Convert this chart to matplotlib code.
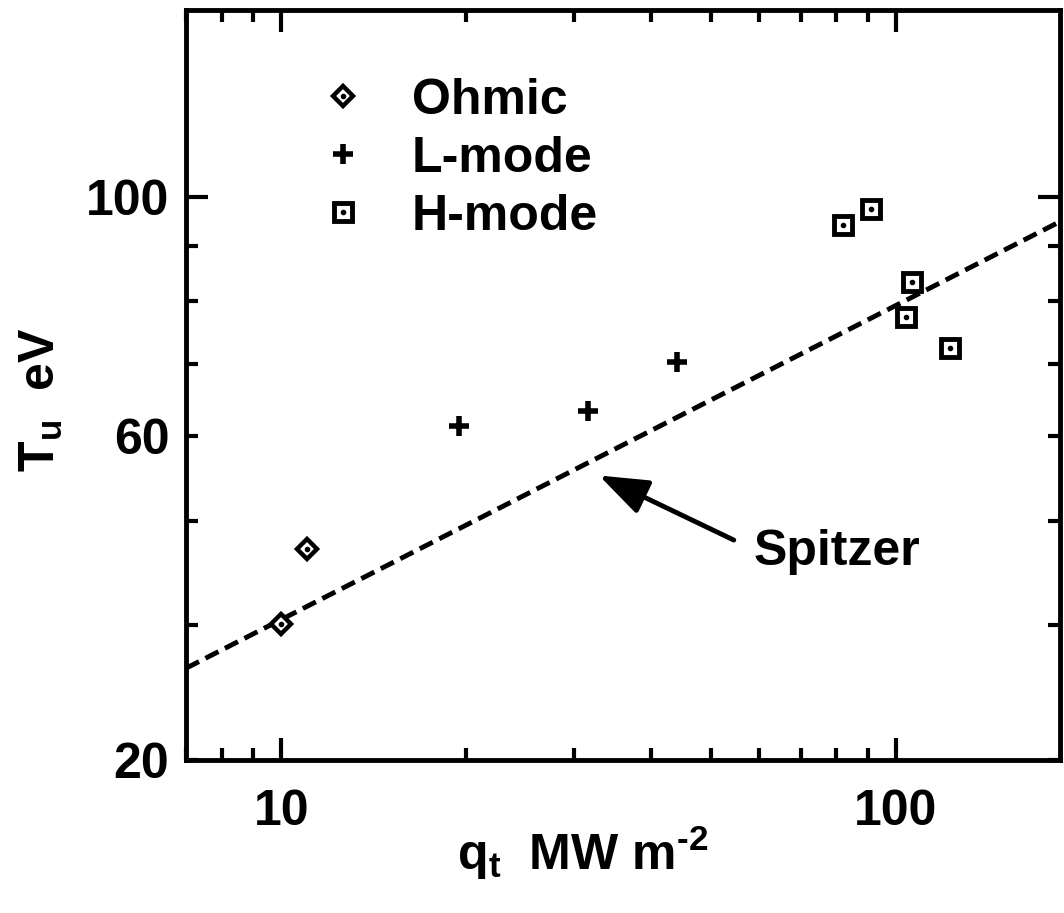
import matplotlib
matplotlib.use("Agg")
import matplotlib.pyplot as plt
from matplotlib.legend_handler import HandlerTuple
from matplotlib.ticker import NullFormatter, FixedLocator

plt.rcParams['font.family'] = ['Liberation Sans', 'DejaVu Sans']
plt.rcParams['font.weight'] = 'bold'
plt.rcParams['mathtext.fontset'] = 'custom'
plt.rcParams['mathtext.rm'] = 'Liberation Sans:bold'
plt.rcParams['mathtext.it'] = 'Liberation Sans:bold'
plt.rcParams['mathtext.bf'] = 'Liberation Sans:bold'
plt.rcParams['mathtext.default'] = 'rm'

# ---- data ----
ohmic_q = [10.0, 11.0]
ohmic_T = [40.1, 47.1]

lmode_q = [19.5, 31.6, 44.0]
lmode_T = [61.2, 63.2, 70.2]

hmode_q = [82.1, 91.2, 106.3, 103.9, 122.4]
hmode_T = [94.2, 97.3, 83.3, 77.3, 72.3]

spitzer_q = [7.0, 185.0]
spitzer_T = [36.5, 94.8]

# annotation: arrow tip, arrow tail, text anchor (data coords)
arrow_tip = (32.9, 55.1)
arrow_tail = (54.5, 48.0)
spitzer_text_pos = (58.8, 46.8)

x_major_ticks = [10, 100]
x_major_labels = ["10", "100"]
x_minor_ticks = [7, 8, 9, 20, 30, 40, 50, 60, 70, 80, 90]
y_major_ticks = [100]
y_major_labels = ["100"]
y_minor_ticks = [30, 40, 50, 60, 70, 80, 90]
y_minor_labels = ["20", "", "", "60", "", "", ""]

legend_labels = ["Ohmic", "L-mode", "H-mode"]

FS = 36

fig = plt.figure(figsize=(10.64, 9.13), dpi=100)
ax = fig.add_axes([186 / 1064, 1 - 760 / 913, 874 / 1064, 750 / 913])
ax.set_xscale('log')
ax.set_yscale('log')
ax.set_xlim(7, 185)
ax.set_ylim(30, 149)

# Spitzer line
ax.plot(spitzer_q, spitzer_T, color='black', lw=3.5, linestyle=(0, (3.0, 1.5)), zorder=2)

# markers
d1, = ax.plot(ohmic_q, ohmic_T, linestyle='none', marker='D', ms=10, mfc='white',
              mec='black', mew=3.2, zorder=3)
d2, = ax.plot(ohmic_q, ohmic_T, linestyle='none', marker='o', ms=3, color='black', zorder=4)
p1, = ax.plot(lmode_q, lmode_T, linestyle='none', marker='+', ms=15, mew=4, color='black', zorder=3)
s1, = ax.plot(hmode_q, hmode_T, linestyle='none', marker='s', ms=12.5, mfc='white',
              mec='black', mew=3.5, zorder=3)
s2, = ax.plot(hmode_q, hmode_T, linestyle='none', marker='o', ms=3, color='black', zorder=4)

leg = ax.legend([(d1, d2), p1, (s1, s2)], legend_labels,
                handler_map={tuple: HandlerTuple(ndivide=1, pad=0)},
                loc='upper left', bbox_to_anchor=(0.151, 0.910), frameon=False,
                handlelength=1.0, handletextpad=0.88, labelspacing=0.24,
                borderpad=0, borderaxespad=0, prop={'weight': 'bold', 'size': FS})

# annotation
ax.annotate("", xy=arrow_tip, xytext=arrow_tail,
            arrowprops=dict(arrowstyle='-|>,head_length=1.5,head_width=0.55',
                            mutation_scale=20, color='black', lw=3.5,
                            shrinkA=0, shrinkB=0))
ax.text(*spitzer_text_pos, "Spitzer", fontsize=FS, fontweight='bold',
        va='center', ha='left')

# ticks
ax.set_xticks(x_major_ticks, x_major_labels)
ax.xaxis.set_minor_locator(FixedLocator(x_minor_ticks))
ax.xaxis.set_minor_formatter(NullFormatter())
ax.set_yticks(y_major_ticks, y_major_labels)
ax.set_yticks(y_minor_ticks, y_minor_labels, minor=True)

ax.tick_params(which='both', direction='in', top=True, right=True, width=3,
               labelsize=FS)
ax.tick_params(which='major', length=16)
ax.tick_params(which='minor', length=8.5)
ax.tick_params(axis='y', which='both', pad=12)
ax.tick_params(axis='x', which='both', pad=21)
for lab in ax.get_xticklabels() + ax.get_yticklabels() + ax.get_yticklabels(minor=True):
    lab.set_fontweight('bold')

for sp in ax.spines.values():
    sp.set_linewidth(3.5)

ax.set_xlabel(r"q$_t$  MW m$^{\text{-}2}$", fontsize=FS, fontweight='bold')
ax.xaxis.set_label_coords((583 - 186) / 874, -0.085)
ax.set_ylabel(r"T$_u$  eV", fontsize=FS, fontweight='bold')
ax.yaxis.set_label_coords(-0.138, (760 - 400) / 750)

fig.savefig("out.png", dpi=100)
